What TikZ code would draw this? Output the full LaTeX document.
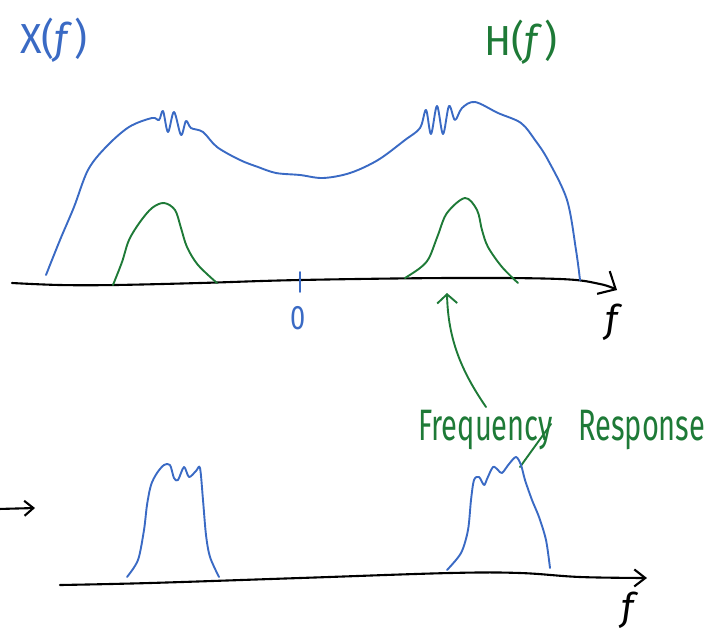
\documentclass[tikz,border=0pt]{standalone}
\usepackage{fontspec}
\setmainfont{Fira Sans}
\usetikzlibrary{arrows.meta}
\definecolor{inkblue}{RGB}{58,106,196}
\definecolor{inkgreen}{RGB}{30,122,55}
\newcommand\hnd[2]{\scalebox{#1}[1]{#2}}
\begin{document}
\begin{tikzpicture}[x=1pt,y=-1pt,
  ink/.style={line width=1.9pt,line cap=round,line join=round},
  blueink/.style={ink,inkblue},
  greenink/.style={ink,inkgreen},
  axis/.style={ink,black,line width=2.1pt},
  lbl/.style={inner sep=0pt,anchor=base west}]
\useasboundingbox (0,0) rectangle (720,630);

% ---------- top panel ----------
\node[lbl,text=inkblue,font=\fontsize{42}{42}\selectfont] (xf) at (20,53) {\hnd{0.95}{X(\textit{f}\kern2pt)}};
\node[lbl,text=inkgreen,font=\fontsize{42}{42}\selectfont] (hf) at (484,55) {\hnd{0.95}{H(\textit{f}\kern2pt)}};

% top axis
\draw[axis,-{Straight Barb[length=14pt,width=26pt]}] plot[smooth,tension=0.6] coordinates
  {(12,283) (60,285) (115,285) (200,283) (300,280) (450,278) (560,279) (600,284) (617,290)};
\draw[blueink] (300,272) -- (300,292);
\node[text=inkblue,font=\fontsize{34}{34}\selectfont,inner sep=0pt] (zero) at (298,318) {\hnd{0.8}{0}};
\node[font=\fontsize{38}{38}\selectfont\itshape,inner sep=0pt] (ftop) at (612,322) {f};

% X(f) blue spectrum
\draw[blueink] plot[smooth,tension=0.55] coordinates
  {(46,275) (60,240) (74,207) (88,170) (106,147) (129,127) (152,118) (159,120)
   (163,111) (168,132) (174,112) (181,135) (186,121) (191,128) (203,132) (217,147)
   (240,160) (258,167) (276,173) (300,175) (323,178) (350,173) (378,160) (405,140)
   (420,128) (426,110) (431,134) (437,106) (443,134) (449,106) (455,120) (462,108) (475,102) (498,113) (521,123)
   (535,140) (548,160) (567,200) (576,250) (580,280)};

% H(f) green humps
\draw[greenink] plot[smooth,tension=0.55] coordinates
  {(113,285) (122,262) (129,240) (140,222) (152,208) (164,203) (175,210) (181,228) (187,247) (198,265) (217,283)};
\draw[greenink] plot[smooth,tension=0.55] coordinates
  {(405,278) (420,268) (429,258) (438,235) (447,213) (465,198) (477,210) (482,230) (488,247) (502,267) (518,283)};

% annotation arrow
\coordinate (tip) at (447,293);
\coordinate (tail) at (486,407);
\draw[greenink,-{Straight Barb[length=9pt,width=20pt]}] (tail) .. controls (462,372) and (448,340) .. (tip);
\node[lbl,text=inkgreen,font=\fontsize{44}{44}\selectfont] (freq) at (418,440) {\hnd{0.66}{Frequency}};
\node[lbl,text=inkgreen,font=\fontsize{44}{44}\selectfont] (resp) at (578,440) {\hnd{0.66}{Response}};
\coordinate (ystart) at (551,424);
\coordinate (yend) at (520,467);
\draw[greenink] (ystart) -- (yend);

% ---------- bottom panel ----------
\coordinate (la) at (-2,509);
\coordinate (lb) at (35,508);
\draw[axis,-{Straight Barb[length=9pt,width=15pt]}] (la) -- (lb);

\draw[axis,-{Straight Barb[length=11pt,width=17pt]}] plot[smooth,tension=0.6] coordinates
  {(60,585) (150,583) (300,578) (450,573) (520,573) (580,577) (647,578)};
\node[font=\fontsize{38}{38}\selectfont\itshape,inner sep=0pt] (fbot) at (628,610) {f};

\draw[blueink] plot[smooth,tension=0.5] coordinates
  {(127,577) (138,560) (144,530) (147,505) (151,485) (157,473) (164,465) (170,465)
   (174,478) (178,480) (184,467) (189,477) (196,471) (200,468) (203,500) (206,535) (210,557) (219,577)};
\draw[blueink] plot[smooth,tension=0.5] coordinates
  {(447,570) (461,553) (468,530) (471,500) (474,480) (479,477) (484,485) (487,479) (493,467) (498,470) (502,473)
   (509,464) (516,457) (521,465) (525,480) (532,500) (539,517) (546,540) (550,568)};
\end{tikzpicture}
\end{document}
